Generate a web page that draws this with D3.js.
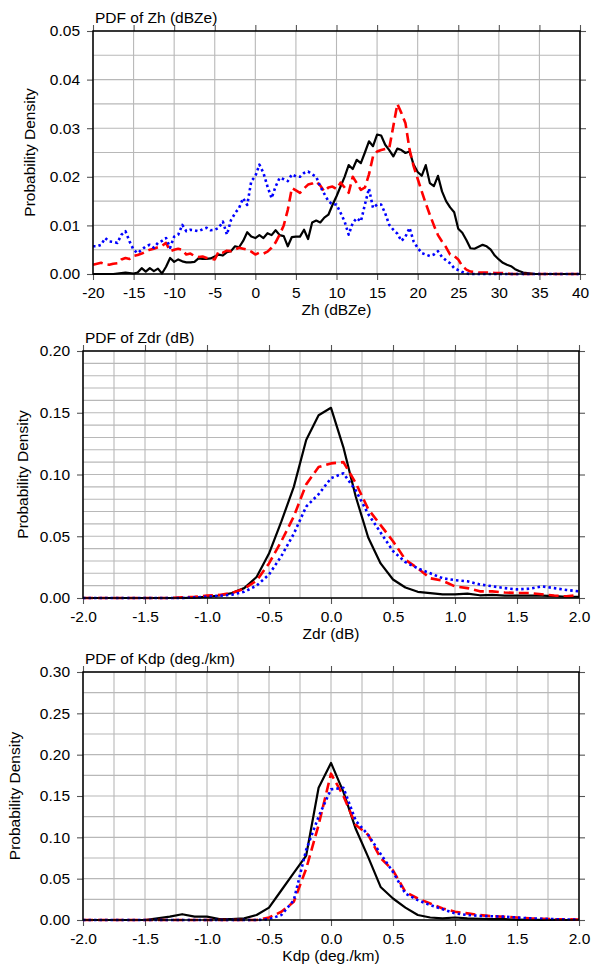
<!DOCTYPE html>
<html>
<head>
<meta charset="utf-8">
<script src="https://cdn.jsdelivr.net/npm/d3@7/dist/d3.min.js"></script>
<style>
  body { margin: 0; background: #fff; }
  text { font-family: "Liberation Sans", Arial, Helvetica, sans-serif; fill: #000; }
</style>
</head>
<body>
<svg id="chart" width="591" height="967"></svg>
<script>
// PDFs of Zh, Zdr and Kdp (three cases: black solid, red dashed, blue dotted)

// bin centres
var zhBins = d3.range(-20, 40.001, 0.5);
var dpBins = d3.range(-2, 2.0001, 0.1);   // shared by Zdr and Kdp

// Zh (dBZe), 0.5 dB bins from -20 to 40
var zhBlack = [
  0, 0, 0, 0, 0, 0, 0.0001, 0.0002, 0.0003, 0.0002,
  0.0001, 0.0003, 0.0012, 0.0005, 0.0012, 0.0006, 0.0011, 0.0001, 0.0015, 0.0033,
  0.0025, 0.0030, 0.0026, 0.0024, 0.0024, 0.0025, 0.0032, 0.0031, 0.0031, 0.0032,
  0.0036, 0.0040, 0.0038, 0.0045, 0.0047, 0.0057, 0.0055, 0.0068, 0.0086, 0.0077,
  0.0074, 0.0080, 0.0074, 0.0084, 0.0080, 0.0090, 0.0080, 0.0078, 0.0057, 0.0076,
  0.0077, 0.0077, 0.0091, 0.0072, 0.0106, 0.0110, 0.0106, 0.0116, 0.0122, 0.0142,
  0.0160, 0.0180, 0.0200, 0.0224, 0.0216, 0.0235, 0.0228, 0.0250, 0.0273, 0.0263,
  0.0287, 0.0285, 0.0266, 0.0255, 0.0242, 0.0258, 0.0255, 0.0249, 0.0252, 0.0225,
  0.0210, 0.0202, 0.0224, 0.0187, 0.0181, 0.0202, 0.0170, 0.0150, 0.0137, 0.0127,
  0.0093, 0.0085, 0.0070, 0.0053, 0.0052, 0.0056, 0.0060, 0.0057, 0.0050, 0.0038,
  0.0030, 0.0023, 0.0019, 0.0016, 0.0010, 0.0006, 0.0003, 0.0002, 0.0001, 0,
  0, 0, 0, 0, 0, 0, 0, 0, 0, 0,
  0
];
var zhRed = [
  0.0019, 0.0021, 0.0023, 0.0020, 0.0019, 0.0021, 0.0022, 0.0030, 0.0033, 0.0031,
  0.0037, 0.0039, 0.0042, 0.0046, 0.0050, 0.0052, 0.0055, 0.0058, 0.0064, 0.0047,
  0.0050, 0.0052, 0.0050, 0.0040, 0.0042, 0.0037, 0.0035, 0.0036, 0.0033, 0.0032,
  0.0030, 0.0047, 0.0044, 0.0048, 0.0047, 0.0050, 0.0054, 0.0052, 0.0050, 0.0046,
  0.0040, 0.0044, 0.0042, 0.0046, 0.0054, 0.0065, 0.0081, 0.0100, 0.0132, 0.0177,
  0.0172, 0.0167, 0.0176, 0.0184, 0.0186, 0.0190, 0.0182, 0.0170, 0.0178, 0.0180,
  0.0175, 0.0188, 0.0178, 0.0167, 0.0200, 0.0187, 0.0173, 0.0178, 0.0205, 0.0242,
  0.0252, 0.0255, 0.0257, 0.0259, 0.0304, 0.0350, 0.0331, 0.0310, 0.0256, 0.0222,
  0.0196, 0.0170, 0.0145, 0.0122, 0.0100, 0.0080, 0.0067, 0.0055, 0.0040, 0.0037,
  0.0030, 0.0016, 0.0009, 0.0005, 0.0004, 0.0003, 0.0003, 0.0003, 0.0003, 0.0002,
  0.0002, 0.0002, 0.0001, 0, 0, 0, 0, 0, 0, 0,
  0, 0, 0, 0, 0, 0, 0, 0, 0, 0,
  0
];
var zhBlue = [
  0.0057, 0.0057, 0.0060, 0.0074, 0.0067, 0.0066, 0.0064, 0.0081, 0.0088, 0.0067,
  0.0050, 0.0043, 0.0050, 0.0057, 0.0060, 0.0054, 0.0064, 0.0068, 0.0074, 0.0054,
  0.0077, 0.0081, 0.0101, 0.0088, 0.0091, 0.0090, 0.0088, 0.0092, 0.0095, 0.0090,
  0.0091, 0.0095, 0.0108, 0.0081, 0.0111, 0.0125, 0.0136, 0.0156, 0.0142, 0.0191,
  0.0201, 0.0225, 0.0208, 0.0180, 0.0156, 0.0180, 0.0198, 0.0195, 0.0191, 0.0205,
  0.0201, 0.0200, 0.0208, 0.0211, 0.0205, 0.0200, 0.0180, 0.0165, 0.0150, 0.0143,
  0.0143, 0.0126, 0.0108, 0.0081, 0.0105, 0.0115, 0.0108, 0.0143, 0.0176, 0.0136,
  0.0143, 0.0143, 0.0125, 0.0101, 0.0091, 0.0083, 0.0068, 0.0077, 0.0095, 0.0067,
  0.0054, 0.0043, 0.0040, 0.0037, 0.0040, 0.0047, 0.0035, 0.0028, 0.0022, 0.0012,
  0.0008, 0.0004, 0.0001, 0, 0, 0, 0, 0, 0, 0,
  0, 0, 0, 0, 0, 0, 0, 0, 0, 0,
  0, 0, 0, 0, 0, 0, 0, 0, 0, 0,
  0
];

// Zdr (dB), 0.1 dB bins from -2 to 2
var zdrBlack = [
  0, 0, 0, 0, 0, 0, 0, 0, 0, 0.0003,
  0.001, 0.002, 0.004, 0.008, 0.017, 0.036, 0.062, 0.090, 0.128, 0.148,
  0.154, 0.122, 0.082, 0.049, 0.028, 0.015, 0.0085, 0.005, 0.004, 0.003,
  0.003, 0.0035, 0.0022, 0.0025, 0.002, 0.002, 0.002, 0.002, 0.0015, 0.001,
  0.001
];
var zdrRed = [
  0, 0, 0, 0, 0, 0, 0, 0, 0.0005, 0.001,
  0.002, 0.0025, 0.004, 0.0075, 0.014, 0.028, 0.046, 0.066, 0.092, 0.106,
  0.109, 0.110, 0.093, 0.072, 0.059, 0.046, 0.031, 0.024, 0.016, 0.014,
  0.0094, 0.008, 0.0054, 0.0054, 0.0045, 0.004, 0.004, 0.003, 0.002, 0.0013,
  0.0027
];
var zdrBlue = [
  0, 0, 0, 0, 0, 0, 0, 0, 0, 0.0005,
  0.001, 0.0018, 0.0027, 0.005, 0.010, 0.019, 0.034, 0.052, 0.074, 0.084,
  0.097, 0.101, 0.087, 0.068, 0.053, 0.038, 0.029, 0.024, 0.020, 0.016,
  0.0145, 0.0135, 0.011, 0.0095, 0.008, 0.007, 0.0075, 0.0094, 0.008, 0.0065,
  0.0054
];

// Kdp (deg./km), 0.1 bins from -2 to 2
var kdpBlack = [
  0, 0, 0, 0, 0, 0, 0.002, 0.004, 0.007, 0.004,
  0.004, 0.001, 0.001, 0.002, 0.006, 0.015, 0.036, 0.057, 0.078, 0.160,
  0.190, 0.155, 0.110, 0.076, 0.040, 0.026, 0.015, 0.006, 0.003, 0.002,
  0.003, 0.002, 0.0015, 0.001, 0.001, 0.0005, 0.0003, 0.0002, 0.0001, 0,
  0
];
var kdpRed = [
  0, 0, 0, 0, 0, 0, 0, 0, 0, 0,
  0, 0, 0, 0, 0, 0.003, 0.010, 0.022, 0.062, 0.115,
  0.177, 0.150, 0.115, 0.103, 0.075, 0.060, 0.034, 0.026, 0.020, 0.014,
  0.010, 0.008, 0.006, 0.0045, 0.004, 0.003, 0.002, 0.0015, 0.001, 0.0008,
  0.0005
];
var kdpBlue = [
  0, 0, 0, 0, 0, 0, 0, 0, 0, 0,
  0, 0, 0, 0, 0, 0.001, 0.006, 0.024, 0.085, 0.125,
  0.158, 0.160, 0.120, 0.103, 0.080, 0.058, 0.032, 0.024, 0.018, 0.013,
  0.008, 0.006, 0.005, 0.0045, 0.004, 0.003, 0.002, 0.0015, 0.001, 0.0007,
  0.0005
];

// tick labels
var zhXTicks = [-20, -15, -10, -5, 0, 5, 10, 15, 20, 25, 30, 35, 40];
var zhYTicks = [0, 0.01, 0.02, 0.03, 0.04, 0.05];
var dpXTicks = [-2, -1.5, -1, -0.5, 0, 0.5, 1, 1.5, 2];
var zdrYTicks = [0, 0.05, 0.10, 0.15, 0.20];
var kdpYTicks = [0, 0.05, 0.10, 0.15, 0.20, 0.25, 0.30];

var styles = [
  { color: "#000", width: 2.2, dash: null },
  { color: "#f00", width: 2.6, dash: "10,5" },
  { color: "#00f", width: 2.6, dash: "2.5,3" }
];

var panels = [
  { title: "PDF of Zh (dBZe)", xLabel: "Zh (dBZe)", bins: zhBins,
    series: [zhBlack, zhRed, zhBlue],
    box: { left: 93, top: 31, right: 580, bottom: 274 },
    xDomain: [-20, 40], xTicks: zhXTicks, xGrid: zhXTicks, xFmt: d => d,
    yDomain: [0, 0.05], yTicks: zhYTicks, yGrid: d3.range(0, 0.0501, 0.005),
    yLabelX: 35 },
  { title: "PDF of Zdr (dB)", xLabel: "Zdr (dB)", bins: dpBins,
    series: [zdrBlack, zdrRed, zdrBlue],
    box: { left: 83, top: 351, right: 579, bottom: 598 },
    xDomain: [-2, 2], xTicks: dpXTicks, xGrid: d3.range(-2, 2.001, 0.25), xFmt: d => d.toFixed(1),
    yDomain: [0, 0.2], yTicks: zdrYTicks, yGrid: d3.range(0, 0.2001, 0.01),
    yLabelX: 28 },
  { title: "PDF of Kdp (deg./km)", xLabel: "Kdp (deg./km)", bins: dpBins,
    series: [kdpBlack, kdpRed, kdpBlue],
    box: { left: 83, top: 672, right: 579, bottom: 920 },
    xDomain: [-2, 2], xTicks: dpXTicks, xGrid: d3.range(-2, 2.001, 0.25), xFmt: d => d.toFixed(1),
    yDomain: [0, 0.3], yTicks: kdpYTicks, yGrid: d3.range(0, 0.3001, 0.025),
    yLabelX: 20 }
];

var svg = d3.select("#chart");
var fontSize = 15.5;

panels.forEach(function(p) {
  var b = p.box;
  var x = d3.scaleLinear().domain(p.xDomain).range([b.left, b.right]);
  var y = d3.scaleLinear().domain(p.yDomain).range([b.bottom, b.top]);
  var g = svg.append("g");

  // grid
  g.selectAll(".hgrid").data(p.yGrid).enter().append("line")
    .attr("x1", b.left).attr("x2", b.right)
    .attr("y1", d => y(d)).attr("y2", d => y(d))
    .attr("stroke", "#b8b8b8").attr("stroke-width", 1.1);
  g.selectAll(".vgrid").data(p.xGrid).enter().append("line")
    .attr("y1", b.top).attr("y2", b.bottom)
    .attr("x1", d => x(d)).attr("x2", d => x(d))
    .attr("stroke", "#b8b8b8").attr("stroke-width", 1.1);

  // axes (ticks on all four sides, labels left and bottom)
  var axes = [
    g.append("g").attr("transform", `translate(0,${b.bottom})`)
      .call(d3.axisBottom(x).tickValues(p.xTicks).tickSize(6).tickPadding(7).tickFormat(p.xFmt)),
    g.append("g").attr("transform", `translate(0,${b.top})`)
      .call(d3.axisTop(x).tickValues(p.xTicks).tickSize(6).tickFormat("")),
    g.append("g").attr("transform", `translate(${b.left},0)`)
      .call(d3.axisLeft(y).tickValues(p.yTicks).tickSize(6).tickPadding(7).tickFormat(d => d.toFixed(2))),
    g.append("g").attr("transform", `translate(${b.right},0)`)
      .call(d3.axisRight(y).tickValues(p.yTicks).tickSize(6).tickFormat(""))
  ];
  axes.forEach(function(a) {
    a.select(".domain").remove();
    a.selectAll(".tick line").attr("stroke", "#555").attr("stroke-width", 1.1);
    a.selectAll(".tick text").attr("font-size", fontSize).attr("font-family", null).attr("fill", "#000");
  });

  // lines
  var line = d3.line().x((d, i) => x(p.bins[i])).y(d => y(d));
  p.series.forEach(function(s, k) {
    g.append("path")
      .datum(s)
      .attr("d", line)
      .attr("fill", "none")
      .attr("stroke", styles[k].color)
      .attr("stroke-width", styles[k].width)
      .attr("stroke-dasharray", styles[k].dash)
      .attr("stroke-linejoin", "round");
  });

  // frame
  g.append("rect")
    .attr("x", b.left).attr("y", b.top)
    .attr("width", b.right - b.left).attr("height", b.bottom - b.top)
    .attr("fill", "none").attr("stroke", "#000").attr("stroke-width", 1.5);

  // labels
  g.append("text")
    .attr("x", b.left + 2).attr("y", b.top - 8)
    .attr("font-size", fontSize)
    .text(p.title);

  g.append("text")
    .attr("x", (b.left + b.right) / 2).attr("y", b.bottom + 41)
    .attr("text-anchor", "middle")
    .attr("font-size", fontSize)
    .text(p.xLabel);

  g.append("text")
    .attr("transform", `translate(${p.yLabelX},${(b.top + b.bottom) / 2}) rotate(-90)`)
    .attr("text-anchor", "middle")
    .attr("font-size", fontSize)
    .text("Probability Density");
});
</script>
</body>
</html>
